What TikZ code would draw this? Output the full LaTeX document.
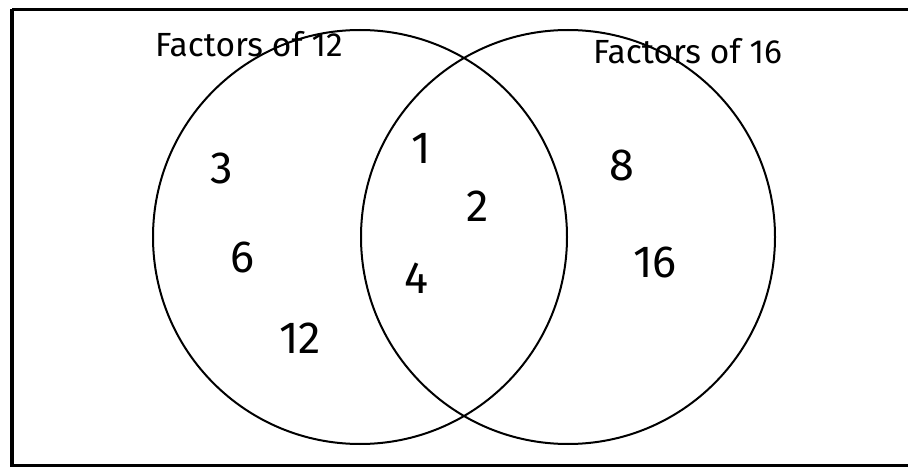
\documentclass[tikz,border=0pt]{standalone}
\usepackage{fontspec}
\setmainfont{Fira Sans}
\begin{document}
\begin{tikzpicture}[x=1pt,y=-1pt,
  setc/.style={circle,draw,line width=2pt,inner sep=0pt,minimum size=414pt},
  title/.style={font=\fontsize{33.5}{36}\selectfont,inner sep=0pt,anchor=base west},
  num/.style={font=\fontsize{45}{48}\selectfont,inner sep=0pt}]
\useasboundingbox (0,0) rectangle (908,468);
\draw[line width=3.5pt] (12,9.5) -- (920,9.5) (12,9.5) -- (12,465.5) -- (920,465.5);
\node[setc] (A) at (360,237) {};
\node[setc] (B) at (568,237) {};
\node[title] (tA) at (155,57) {Factors of 12};
\node[title] (tB) at (593,64) {Factors of 16};
\node[num] (n3) at (222,168) {3};
\node[num] (n6) at (242,257) {6};
\node[num] (n12) at (300,338) {12};
\node[num] (n1) at (421,148) {1};
\node[num] (n2) at (478,206) {2};
\node[num] (n4) at (416,278) {4};
\node[num] (n8) at (622,165) {8};
\node[num] (n16) at (655,262) {16};
\end{tikzpicture}
\end{document}
